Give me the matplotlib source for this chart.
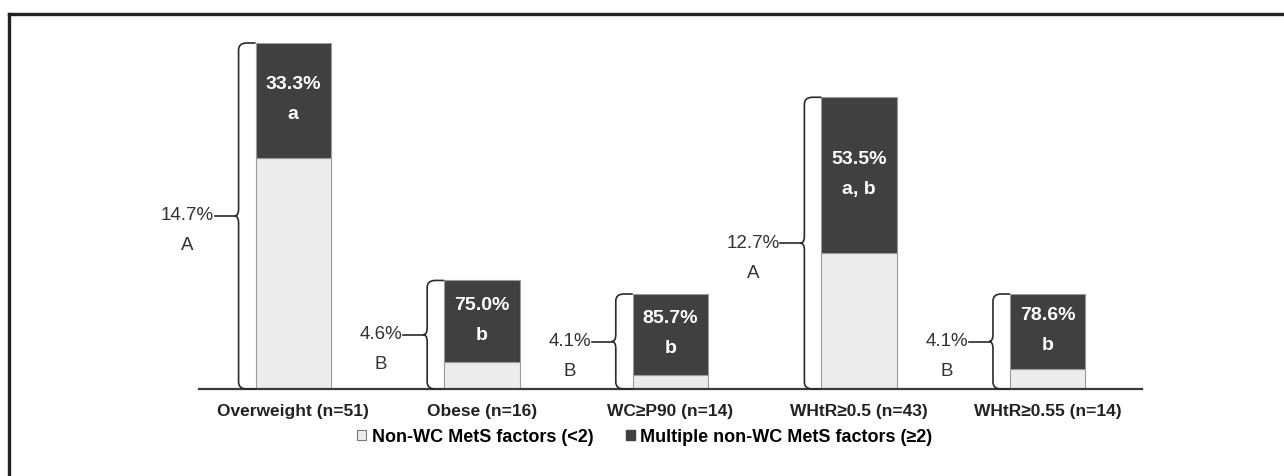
import matplotlib
matplotlib.use("Agg")
import matplotlib.pyplot as plt
from matplotlib.lines import Line2D
from matplotlib.patches import Patch, PathPatch
from matplotlib.path import Path

categories = ["Overweight (n=51)", "Obese (n=16)", "WC\u2265P90 (n=14)",
              "WHtR\u22650.5 (n=43)", "WHtR\u22650.55 (n=14)"]
n_low = [34, 4, 2, 20, 3]        # non-WC MetS factors (<2)
n_multi = [17, 12, 12, 23, 11]   # multiple non-WC MetS factors (>=2)
pct_multi = ["33.3%", "75.0%", "85.7%", "53.5%", "78.6%"]
letter_multi = ["a", "b", "b", "a, b", "b"]
pct_prev = ["14.7%", "4.6%", "4.1%", "12.7%", "4.1%"]
letter_prev = ["A", "B", "B", "A", "B"]

DARK = "#404042"
LIGHT = "#ececec"
EDGE = "#9a9a9a"
TXT = "#333333"
SANS = ["Liberation Sans", "DejaVu Sans"]

W, H = 1284, 476
fig = plt.figure(figsize=(W / 100, H / 100), dpi=100)
ax_l, ax_r, ax_b, ax_t = 199, 1142, 389, 43
ax = fig.add_axes([ax_l / W, (H - ax_b) / H, (ax_r - ax_l) / W, (ax_b - ax_t) / H])

x = list(range(len(categories)))
totals = [a + b for a, b in zip(n_low, n_multi)]
bw = 0.40
ax.bar(x, n_low, width=bw, color=LIGHT, edgecolor=EDGE, linewidth=0.8, zorder=2)
ax.bar(x, n_multi, bottom=n_low, width=bw, color=DARK, edgecolor=EDGE,
       linewidth=0.8, zorder=2)

ax.set_xlim(-0.5, 4.5)
ax.set_ylim(0, max(totals))
for s in ("top", "right", "left"):
    ax.spines[s].set_visible(False)
ax.spines["bottom"].set_color("#3a3a3a")
ax.spines["bottom"].set_linewidth(1.6)
ax.set_yticks([])
ax.set_xticks(x)
ax.set_xticklabels(categories, fontsize=12.5, fontweight="bold",
                   family=SANS, color="#222")
ax.tick_params(axis="x", length=0, pad=11)

# pixel -> data scale
sx = 5.0 / (ax_r - ax_l)
sy = max(totals) / (ax_b - ax_t)

for i in x:
    tot = totals[i]
    # labels inside dark segment
    ymid = n_low[i] + n_multi[i] / 2
    ax.annotate(pct_multi[i], (i, ymid), xytext=(0, 16), textcoords="offset pixels",
                ha="center", va="center", color="white", fontsize=14,
                fontweight="bold", family=SANS, zorder=4)
    ax.annotate(letter_multi[i], (i, ymid), xytext=(0, -14), textcoords="offset pixels",
                ha="center", va="center", color="white", fontsize=14,
                fontweight="bold", family=SANS, zorder=4)

    # curly brace left of the bar
    xb = i - bw / 2
    xs = xb - 17 * sx
    xt = xs - 4 * sx
    r = 7 * sy
    rx = 8 * sx
    mid = tot / 2
    verts = [(xb, tot), (xs + rx, tot), (xs, tot), (xs, tot - r),
             (xs, mid + r), (xs, mid), (xt, mid),
             (xs, mid), (xs, mid - r),
             (xs, r), (xs, 0), (xs + rx, 0), (xb, 0)]
    codes = [Path.MOVETO, Path.LINETO, Path.CURVE3, Path.CURVE3,
             Path.LINETO, Path.CURVE3, Path.CURVE3,
             Path.CURVE3, Path.CURVE3,
             Path.LINETO, Path.CURVE3, Path.CURVE3, Path.LINETO]
    ax.add_patch(PathPatch(Path(verts, codes), fill=False, edgecolor="#2a2a2a",
                           lw=1.2, zorder=3, clip_on=False))
    xl = xt - 20 * sx
    ax.plot([xl, xt], [mid, mid], color="#2a2a2a", lw=1.2, zorder=3,
            clip_on=False)
    t = ax.text(xl - 1 * sx, mid, pct_prev[i], ha="right", va="center",
                fontsize=13.5, color=TXT, family=SANS)
    ax.annotate(letter_prev[i], xy=(0.5, 0), xycoords=t, xytext=(0, -13),
                textcoords="offset pixels", ha="center", va="top",
                fontsize=13.5, color=TXT, family=SANS)

handles = [Patch(facecolor=LIGHT, edgecolor="#777", linewidth=0.8),
           Patch(facecolor=DARK, edgecolor=DARK)]
labels = ["Non-WC MetS factors (<2)", "Multiple non-WC MetS factors (\u22652)"]
fig.legend(handles, labels, loc="center", bbox_to_anchor=(645 / W, 1 - 437 / H),
           ncol=2, frameon=False, handlelength=0.5, handleheight=0.5,
           handletextpad=0.3, columnspacing=1.8,
           prop={"family": SANS, "weight": "bold", "size": 13})

# frame from the original image crop: top and left edges only
ytop = 1 - 14 / H
xleft = 9 / W
fig.add_artist(Line2D([xleft, 1], [ytop, ytop], color="#222", lw=2.4,
                      transform=fig.transFigure))
fig.add_artist(Line2D([xleft, xleft], [0, ytop], color="#222", lw=2.4,
                      transform=fig.transFigure))

fig.savefig("out.png", dpi=100)
